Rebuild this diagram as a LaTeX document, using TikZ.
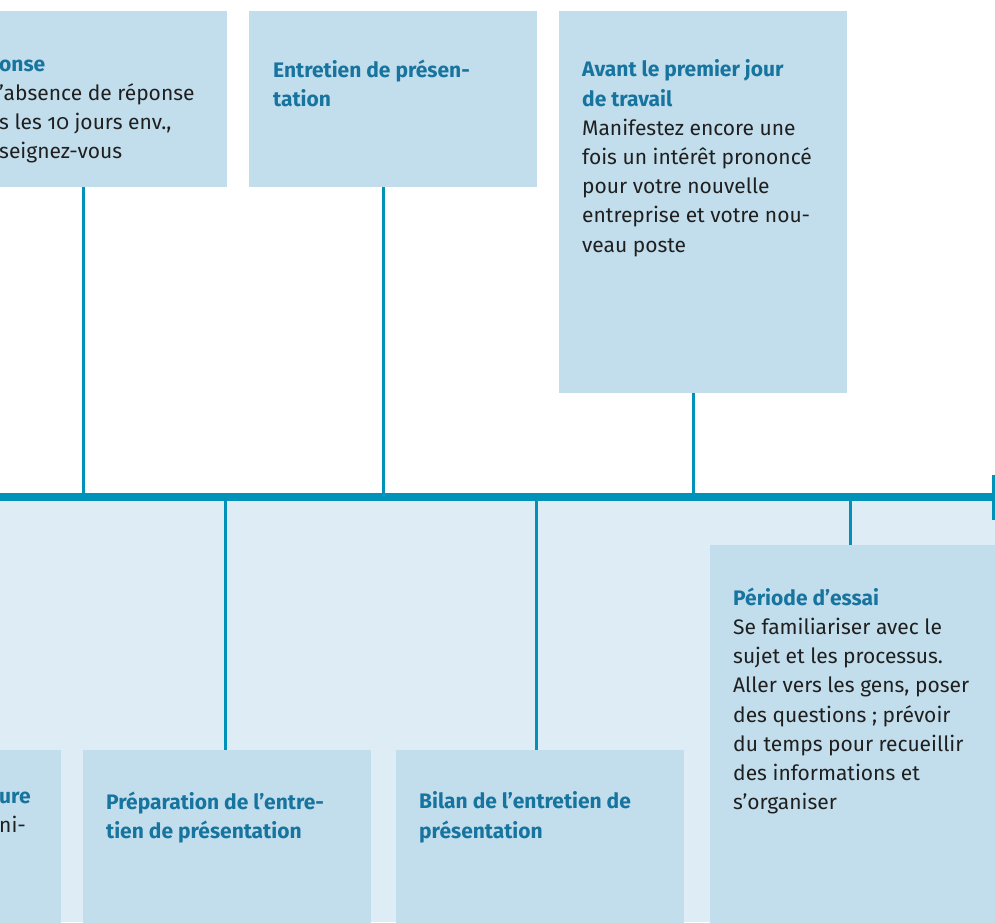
\documentclass[tikz,border=0pt]{standalone}
\usepackage{fontspec}
\setmainfont{Fira Sans}[Numbers=OldStyle]
\usetikzlibrary{positioning}
\definecolor{cardblue}{HTML}{C2DEEC}
\definecolor{paleblue}{HTML}{DEEDF5}
\definecolor{lineblue}{HTML}{0092B9}
\definecolor{headblue}{HTML}{17749E}
\definecolor{bodyink}{HTML}{1F1F1F}
\newcommand{\head}[1]{{\bfseries\color{headblue}#1}}

\begin{document}
\begin{tikzpicture}[x=1pt, y=-1pt,
    card/.style={fill=cardblue, inner sep=0pt, anchor=north west, minimum width=288pt},
    txt/.style={anchor=north west, inner sep=0pt, align=left, text=bodyink,
      font=\fontsize{21}{29.2}\selectfont, execute at begin node=\strut},
    stem/.style={draw=lineblue, line width=3pt},
    axis/.style={draw=lineblue, line width=8pt}]
    \clip (0,0) rectangle (995,922);
    \fill[paleblue] (0,501) rectangle (995,922);

    \node[card, minimum height=176pt] (rep) at (-61,11) {};
    \node[card, minimum height=176pt] (ent) at (249,11) {};
    \node[card, minimum height=382pt] (avant) at (559,11) {};
    \node[card, minimum height=190pt] (cand) at (-227,750) {};
    \node[card, minimum height=190pt] (prep) at (83,750) {};
    \node[card, minimum height=190pt] (bilan) at (396,750) {};
    \node[card, minimum height=390pt, minimum width=300pt] (essai) at (710,545) {};

    \node[txt] (rep-t) at (-1,59.6) {\head{onse}\\’absence de réponse\\s les 10 jours env.,\\seignez-vous};
    \node[txt] (ent-t) at (273,59.6) {\head{Entretien de présen-}\\\head{tation}};
    \node[txt] (avant-t) at (582,59.6) {\head{Avant le premier jour}\\\head{de travail}\\Manifestez encore une\\fois un intérêt prononcé\\pour votre nouvelle\\entreprise et votre nou-\\veau poste};
    \node[txt] (cand-t) at (-1,791.6) {\head{ure}\\ni-};
    \node[txt] (prep-t) at (106,791.6) {\head{Préparation de l’entre-}\\\head{tien de présentation}};
    \node[txt] (bilan-t) at (419,791.6) {\head{Bilan de l’entretien de}\\\head{présentation}};
    \node[txt] (essai-t) at (733,587.6) {\head{Période d’essai}\\Se familiariser avec le\\sujet et les processus.\\Aller vers les gens, poser\\des questions ; prévoir\\du temps pour recueillir\\des informations et\\s’organiser};

    \coordinate (t0) at (0,497);
    \coordinate (t1) at (993,497);
    \coordinate (m1) at (83,497);
    \coordinate (m2) at (383,497);
    \coordinate (m3) at (693.5,497);
    \coordinate (m4) at (225,497);
    \coordinate (m5) at (536,497);
    \coordinate (m6) at (850,497);
    \coordinate (e0) at (993.5,475);
    \coordinate (e1) at (993.5,520);

    \draw[stem]
    (rep.south -| m1) -- (m1)
    (ent.south -| m2) -- (m2)
    (avant.south -| m3) -- (m3)
    (m4) -- (m4 |- prep.north)
    (m5) -- (m5 |- bilan.north)
    (m6) -- (m6 |- essai.north)
    (e0) -- (e1);
    \draw[axis] (t0) -- (t1);
\end{tikzpicture}
\end{document}
